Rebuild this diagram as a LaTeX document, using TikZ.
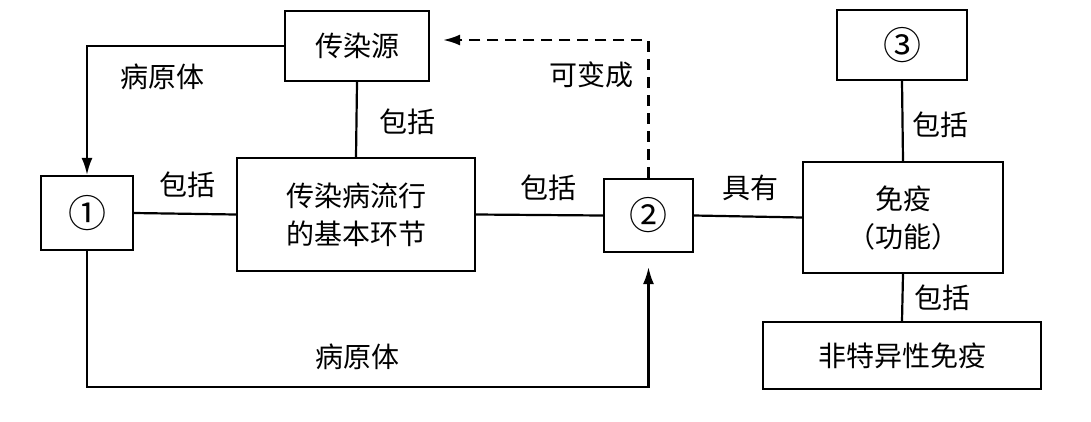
\documentclass[tikz,border=0pt]{standalone}
\usepackage{fontspec}
\setmainfont{Noto Sans CJK SC}
\usetikzlibrary{arrows.meta}
\begin{document}
\begin{tikzpicture}[x=1pt,y=-1pt,
  box/.style={draw,line width=2.2pt,align=center,inner sep=0pt,font=\fontsize{28}{38}\selectfont},
  num/.style={font=\fontsize{38}{40}\selectfont},
  lbl/.style={inner sep=0pt,font=\fontsize{28}{38}\selectfont},
  conn/.style={line width=2.2pt},
  arr/.style={line width=2.2pt,-{Latex[length=17pt,width=11pt]}},
  dsh/.style={line width=2.2pt,dash pattern=on 11pt off 7pt,-{Latex[length=17pt,width=11pt]}}]
\useasboundingbox (0,0) rectangle (1091,421);
\fill[white] (0,0) rectangle (1091,421);
% boxes
\node[box,minimum width=144pt,minimum height=70pt] (src) at (357,46) {传染源};
\node[box,num,minimum width=92pt,minimum height=74pt] (c1) at (87,213) {①};
\node[box,minimum width=238pt,minimum height=113pt] (main) at (356,214.5) {传染病流行\\的基本环节};
\node[box,num,minimum width=89pt,minimum height=73pt] (c2) at (648.5,215.5) {②};
\node[box,minimum width=200pt,minimum height=111pt] (imm) at (903,217.5) {免疫\\（功能）};
\node[box,num,minimum width=130pt,minimum height=70pt] (c3) at (902,45) {③};
\node[box,minimum width=278pt,minimum height=67pt] (nsi) at (902,355.5) {非特异性免疫};
% coordinates
\coordinate (dtop) at (648.5,40);
\coordinate (bot) at (87,387);
% connectors
\draw[arr] (src.west) -| (c1.north);
\draw[conn] (src.south) -- (main.north);
\draw[conn] (c1.east) -- (main.west);
\draw[conn] (main.east) -- (c2.west);
\draw[dsh,shorten >=13pt] (c2.north) -- (dtop) -- (dtop -| src.east);
\draw[arr,shorten >=14pt] (c1.south) -- (bot) -| (c2.south);
\draw[conn] (c2.east) -- (imm.west);
\draw[conn] (c3.south) -- (imm.north);
\draw[conn] (imm.south) -- (nsi.north);
% labels
\node[lbl] (l1) at (162,77) {病原体};
\node[lbl] (l2) at (407,122) {包括};
\node[lbl] (l3) at (187,185) {包括};
\node[lbl] (l4) at (548,188) {包括};
\node[lbl] (l5) at (591,75) {可变成};
\node[lbl] (l6) at (750,188) {具有};
\node[lbl] (l7) at (940,125) {包括};
\node[lbl] (l8) at (942,298) {包括};
\node[lbl] (l9) at (357,357) {病原体};
\end{tikzpicture}
\end{document}
